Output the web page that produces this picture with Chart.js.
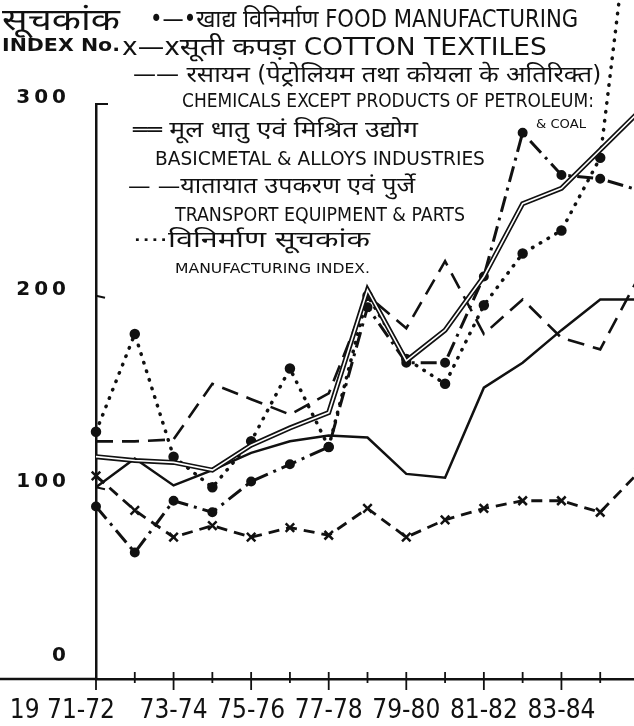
<!DOCTYPE html>
<html>
<head>
<meta charset="utf-8">
<script src="https://cdn.jsdelivr.net/npm/chart.js@4/dist/chart.umd.min.js"></script>
<style>
  html, body { margin: 0; padding: 0; background: #fff; }
  body { width: 634px; height: 726px; overflow: hidden; position: relative; }
  #wrap { position: absolute; left: 0; top: 0; width: 660px; height: 726px; }
  .t {
    position: absolute; white-space: nowrap; color: #111; line-height: 1;
    font-family: "Liberation Sans Narrow", "DejaVu Sans Condensed", "Noto Sans Devanagari", sans-serif;
    transform-origin: 0 50%;
  }
</style>
</head>
<body>
<div id="wrap"><canvas id="chart" width="660" height="726"></canvas></div>
<div id="legend"></div>
<script>
// years on the x axis (1971-72 .. 1985-86)
const years = ["1971-72", "72-73", "73-74", "74-75", "75-76", "76-77", "77-78", "78-79",
  "79-80", "80-81", "81-82", "82-83", "83-84", "84-85", "85-86"];

// index numbers
const food = [90, 66, 93, 87, 103, 112, 121, 194, 165, 165, 210, 285, 263, 261, 255];
const cotton = [106, 88, 74, 80, 74, 79, 75, 89, 74, 83, 89, 93, 93, 87, 108];
const chemicals = [100, 115, 101, 109, 118, 124, 127, 126, 107, 105, 152, 165, 182, 198, 198];
const basicMetals = [116, 114, 113, 109, 122, 131, 139, 203, 166, 182, 210, 248, 256, 276, 296];
const transport = [124, 124, 125, 154, 146, 138, 149, 200, 183, 218, 180, 198, 178, 172, 210];
const mfgIndex = [129, 180, 116, 100, 124, 162, 121, 200, 167, 154, 195, 222, 234, 272, 440];

const yTicks = [0, 100, 200, 300];

const INK = "#111";

// ------------------------------
// LEGEND / TITLE TEXT (html)
// ------------------------------
const legendItems = [
  { text: "सूचकांक", x: 2, y: 20, w: 118, size: 30 },
  { text: "INDEX No.", x: 2, y: 45, w: 118, size: 17, bold: true, fam: "'DejaVu Sans', sans-serif" },
  { text: "•—•खाद्य विनिर्माण FOOD MANUFACTURING", x: 150, y: 19, w: 428, size: 24 },
  { text: "x—xसूती कपड़ा COTTON TEXTILES", x: 122, y: 47, w: 425, size: 24 },
  { text: "—— रसायन (पेट्रोलियम तथा कोयला के अतिरिक्त)", x: 133, y: 74, w: 468, size: 23 },
  { text: "CHEMICALS EXCEPT PRODUCTS OF PETROLEUM:", x: 182, y: 100, w: 412, size: 20 },
  { text: "& COAL", x: 536, y: 124, w: 50, size: 12 },
  { text: "══ मूल धातु एवं मिश्रित उद्योग", x: 133, y: 130, w: 285, size: 22 },
  { text: "BASICMETAL & ALLOYS INDUSTRIES", x: 155, y: 158, w: 330, size: 20 },
  { text: "— —यातायात उपकरण एवं पुर्जे", x: 128, y: 186, w: 287, size: 22 },
  { text: "TRANSPORT EQUIPMENT & PARTS", x: 175, y: 214, w: 290, size: 20 },
  { text: "····विनिर्माण सूचकांक", x: 133, y: 240, w: 237, size: 22 },
  { text: "MANUFACTURING INDEX.", x: 175, y: 268, w: 195, size: 14 }
];

function buildLegend() {
  const box = document.getElementById("legend");
  legendItems.forEach((it) => {
    const s = document.createElement("span");
    s.className = "t";
    s.textContent = it.text;
    s.style.fontSize = it.size + "px";
    s.style.left = it.x + "px";
    s.style.top = (it.y - it.size / 2) + "px";
    if (it.bold) s.style.fontWeight = "bold";
    if (it.fam) s.style.fontFamily = it.fam;
    box.appendChild(s);
    const k = it.w / s.getBoundingClientRect().width;
    s.style.transform = "scaleX(" + k.toFixed(3) + ")";
  });
}

// ------------------------------
// AXIS DECORATION (ticks + labels)
// ------------------------------
const axisDecor = {
  id: "axisDecor",
  afterDraw(chart) {
    const ctx = chart.ctx;
    const xs = chart.scales.x;
    const ys = chart.scales.y;
    const a = chart.chartArea;
    ctx.save();
    ctx.strokeStyle = INK;
    ctx.fillStyle = INK;

    // base line runs out to the left edge
    ctx.lineWidth = 2.5;
    ctx.beginPath();
    ctx.moveTo(0, a.bottom);
    ctx.lineTo(a.left, a.bottom);
    ctx.stroke();

    // year ticks cross the base line
    ctx.lineWidth = 1.8;
    years.forEach((lab, i) => {
      const x = xs.getPixelForValue(i);
      ctx.beginPath();
      ctx.moveTo(x, a.bottom - 7);
      ctx.lineTo(x, a.bottom + (i % 2 === 0 ? 11 : 4));
      ctx.stroke();
    });

    // small stubs on the value axis
    ctx.lineWidth = 2;
    yTicks.forEach((v) => {
      if (v === 0) return;
      const y = ys.getPixelForValue(v);
      ctx.beginPath();
      ctx.moveTo(a.left, y);
      ctx.lineTo(a.left + (v === 300 ? 12 : 9), y + (v === 300 ? 0 : 2));
      ctx.stroke();
    });

    // year labels, every second year
    ctx.font = '26px "Liberation Sans Narrow", "DejaVu Sans Condensed", sans-serif';
    ctx.textBaseline = "middle";
    years.forEach((lab, i) => {
      if (i % 2 !== 0 || i > 12) return;
      const x = xs.getPixelForValue(i);
      if (i === 0) {
        ctx.textAlign = "right";
        ctx.fillText(lab.replace(/^19/, "19 "), x + 19, a.bottom + 32);
      } else {
        ctx.textAlign = "center";
        ctx.fillText(lab, x, a.bottom + 32);
      }
    });

    // value labels
    ctx.font = 'bold 20px "DejaVu Sans", sans-serif';
    ctx.textAlign = "right";
    if ("letterSpacing" in ctx) ctx.letterSpacing = "4px";
    yTicks.forEach((v) => {
      const y = ys.getPixelForValue(v) + (v === 0 ? -23 : -6);
      ctx.fillText(String(v), 70, y);
    });
    ctx.restore();
  }
};

// ------------------------------
// CHART
// ------------------------------
function lineSet(data, extra) {
  return Object.assign({
    data: data,
    borderColor: INK,
    backgroundColor: INK,
    borderWidth: 2.5,
    pointRadius: 0,
    tension: 0,
    fill: false,
    clip: false
  }, extra);
}

buildLegend();

new Chart(document.getElementById("chart"), {
  type: "line",
  data: {
    labels: years,
    datasets: [
      // inner white stroke of the double line (drawn on top)
      lineSet(basicMetals, { label: "inner", borderColor: "#fff", borderWidth: 1.6, order: 0 }),
      lineSet(basicMetals, { label: "Basic metal & alloys industries", borderWidth: 5, order: 1 }),
      lineSet(chemicals, { label: "Chemicals", borderWidth: 2.5, order: 1 }),
      lineSet(food, {
        label: "Food manufacturing", borderWidth: 3, borderDash: [16, 6, 3, 6],
        pointRadius: 3.5, pointStyle: "circle", order: 1
      }),
      lineSet(cotton, {
        label: "Cotton textiles", borderWidth: 2.8, borderDash: [11, 7],
        pointRadius: 6, pointStyle: "crossRot", pointBorderWidth: 2.5, order: 1
      }),
      lineSet(transport, { label: "Transport equipment & parts", borderWidth: 2.6, borderDash: [17, 9], order: 1 }),
      lineSet(mfgIndex, {
        label: "Manufacturing index", borderWidth: 3.5, borderDash: [0.5, 8.5], borderCapStyle: "round",
        pointRadius: 3.5, pointStyle: "circle", order: 1
      })
    ]
  },
  options: {
    responsive: false,
    animation: false,
    devicePixelRatio: 1,
    layout: { padding: { top: 104, right: 21, left: 0, bottom: 0 } },
    plugins: { legend: { display: false }, tooltip: { enabled: false } },
    scales: {
      x: {
        type: "category",
        offset: false,
        grid: { display: false },
        ticks: { display: false },
        border: { display: true, color: INK, width: 2.5 },
        afterFit: (scale) => { scale.height = 47; }
      },
      y: {
        min: 0,
        max: 300,
        grid: { display: false },
        ticks: { display: false, stepSize: 100 },
        border: { display: true, color: INK, width: 2.5 },
        afterFit: (scale) => { scale.width = 96; }
      }
    }
  },
  plugins: [axisDecor]
});
</script>
</body>
</html>
